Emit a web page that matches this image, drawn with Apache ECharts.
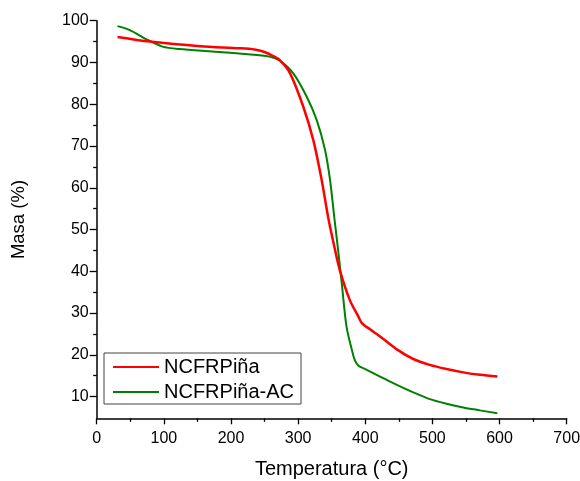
<!DOCTYPE html>
<html>
<head>
<meta charset="utf-8">
<script src="https://cdn.jsdelivr.net/npm/echarts@6/dist/echarts.min.js"></script>
<style>
html,body{margin:0;padding:0;background:#fff;}
#chart{width:580px;height:481px;}
</style>
</head>
<body>
<div id="chart"></div>
<script>
const seriesNames = ['NCFRPiña', 'NCFRPiña-AC'];
const xTicks = [0, 100, 200, 300, 400, 500, 600, 700];
const yMajorTicks = [10, 20, 30, 40, 50, 60, 70, 80, 90, 100];
const yMinorTicks = [15, 25, 35, 45, 55, 65, 75, 85, 95];

const tempRed = [31, 79, 154, 213, 235, 250, 262, 273, 288, 307.7, 322.6, 335, 345, 355, 362, 377, 389.6, 395, 407, 422, 447, 471.5, 496, 521, 546, 571, 596.7];
const massRed = [96.1, 95.0, 93.9, 93.4, 93.1, 92.5, 91.6, 90.5, 87.4, 79.4, 71.4, 61.9, 52.7, 45.1, 40.3, 33.1, 29.2, 27.6, 26.1, 24.4, 21.3, 19.0, 17.6, 16.6, 15.8, 15.2, 14.8];

const tempGreen = [31, 48.6, 76, 98, 123, 173, 222, 257, 273, 292.8, 312.8, 327.7, 340, 347.5, 354, 359.9, 365, 372, 380, 384.7, 390, 397, 422, 447, 471.5, 496, 521, 546, 571, 596.7];
const massGreen = [98.7, 97.8, 95.4, 93.8, 93.2, 92.6, 92.0, 91.4, 90.4, 87.4, 81.8, 76.2, 69.1, 61.9, 52.7, 44.6, 37.1, 26.8, 21.2, 18.6, 17.4, 16.8, 14.8, 12.8, 11.0, 9.4, 8.3, 7.4, 6.7, 6.0];

const zip = (a, b) => a.map((v, i) => [v, b[i]]);
const FONT = 'Liberation Sans, Arial, sans-serif';

const chart = echarts.init(document.getElementById('chart'), null, {renderer: 'canvas'});
chart.setOption({
  backgroundColor: '#fff',
  animation: false,
  grid: {left: 96.7, right: 13.3, top: 20.7, bottom: 62.7, containLabel: false, outerBoundsMode: 'none'},
  legend: {
    left: 104, top: 353, orient: 'vertical',
    padding: [4, 7, 2, 9],
    itemGap: 5, itemWidth: 46, itemHeight: 2,
    icon: 'rect',
    borderColor: '#444', borderWidth: 1,
    textStyle: {fontFamily: FONT, fontSize: 20, color: '#000'},
    data: seriesNames
  },
  xAxis: {
    type: 'value', min: xTicks[0], max: xTicks[xTicks.length - 1], interval: 100,
    name: 'Temperatura (°C)', nameLocation: 'middle', nameGap: 41,
    nameTextStyle: {fontFamily: FONT, fontSize: 20, color: '#000'},
    axisLine: {show: true, lineStyle: {color: '#000', width: 1.5}},
    axisTick: {show: true, length: 6, inside: false, lineStyle: {color: '#000', width: 1.3}},
    minorTick: {show: true, splitNumber: 2, length: 3.5, lineStyle: {color: '#000', width: 1.3}},
    axisLabel: {fontFamily: FONT, fontSize: 16, color: '#000', margin: 12},
    splitLine: {show: false}
  },
  yAxis: [{
    type: 'value', min: 4.8, max: 100,
    name: 'Masa (%)', nameLocation: 'middle', nameGap: 68, nameRotate: 90,
    nameTextStyle: {fontFamily: FONT, fontSize: 18.5, color: '#000'},
    axisLine: {show: true, lineStyle: {color: '#000', width: 1.5}},
    axisTick: {show: true, length: 7, inside: false, customValues: yMajorTicks, lineStyle: {color: '#000', width: 1.3}},
    axisLabel: {fontFamily: FONT, fontSize: 16, color: '#000', margin: 8, customValues: yMajorTicks, showMinLabel: true, showMaxLabel: true},
    splitLine: {show: false}
  }, {
    type: 'value', min: 4.8, max: 100, position: 'left', offset: 0,
    axisLine: {show: false},
    axisTick: {show: true, length: 3.5, inside: false, customValues: yMinorTicks, lineStyle: {color: '#000', width: 1.3}},
    axisLabel: {show: false},
    splitLine: {show: false}
  }],
  series: [{
    name: seriesNames[0], type: 'line', yAxisIndex: 0,
    data: zip(tempRed, massRed), showSymbol: false, symbol: 'none', smooth: 0.3,
    lineStyle: {color: '#ff0000', width: 2.5}, itemStyle: {color: '#ff0000'}, z: 3
  }, {
    name: seriesNames[1], type: 'line', yAxisIndex: 0,
    data: zip(tempGreen, massGreen), showSymbol: false, symbol: 'none', smooth: 0.3,
    lineStyle: {color: '#008000', width: 2}, itemStyle: {color: '#008000'}, z: 2
  }]
});
</script>
</body>
</html>
